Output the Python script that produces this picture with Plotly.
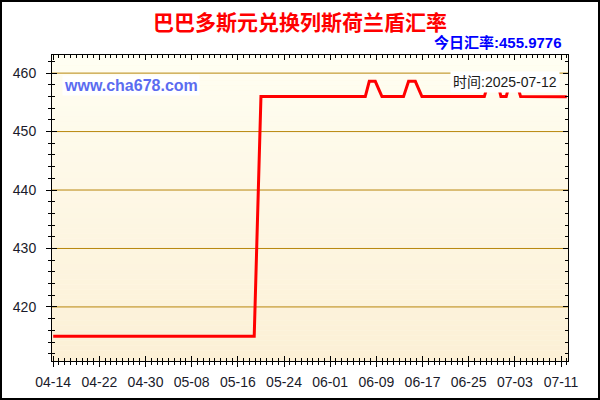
import plotly.graph_objects as go

# ---- data ----
dates = [
    "2025-04-14 00:00", "2025-05-18 20:00", "2025-05-20 00:00",
    "2025-06-07 02:00", "2025-06-07 18:30", "2025-06-08 19:30", "2025-06-09 23:15",
    "2025-06-13 17:00", "2025-06-14 14:00", "2025-06-15 18:00", "2025-06-16 21:30",
    "2025-06-27 17:00", "2025-06-28 12:00", "2025-06-29 23:00", "2025-06-30 14:00",
    "2025-07-01 12:00", "2025-07-02 05:00", "2025-07-03 05:00", "2025-07-04 00:00",
    "2025-07-12 00:00",
]
rates = [
    415.0, 415.0, 455.98,
    455.98, 458.6, 458.6, 455.98,
    455.98, 458.6, 458.6, 455.98,
    455.98, 458.6, 458.6, 455.98,
    455.98, 458.6, 458.6, 455.98,
    455.9776,
]
y_ticks = [420, 430, 440, 450, 460]
title_text = "巴巴多斯元兑换列斯荷兰盾汇率"
today_text = "今日汇率:455.9776"
site_text = "www.cha678.com"
time_text = "时间:2025-07-12"

x_range = ["2025-04-13 19:00", "2025-07-12 05:00"]
y_range = [410.75, 463.1]

# ---- layout geometry (pixels) ----
W, H = 600, 400
ML, MR, MT, MB = 52, 32, 55, 39
PW, PH = W - ML - MR, H - MT - MB


def px_x(px):
    return (px - ML) / PW


def px_y(py):
    return (H - MB - py) / PH


fig = go.Figure()
fig.add_trace(go.Scatter(
    x=dates, y=rates, mode="lines",
    line=dict(color="#FF0000", width=3),
    showlegend=False, hoverinfo="skip",
))
# invisible twin so the overlay axes (crossing tick marks) are drawn
fig.add_trace(go.Scatter(
    x=dates, y=rates, mode="lines", xaxis="x2", yaxis="y2",
    line=dict(color="rgba(0,0,0,0)", width=0),
    showlegend=False, hoverinfo="skip",
))

# gradient background strips
N = 60
top_c = (255, 254, 242)
bot_c = (252, 240, 214)
shapes = []
for i in range(N):
    t = i / (N - 1)
    c = tuple(round(bot_c[k] + (top_c[k] - bot_c[k]) * t) for k in range(3))
    shapes.append(dict(
        type="rect", xref="paper", yref="paper",
        x0=0, x1=1, y0=i / N, y1=(i + 1) / N,
        fillcolor="rgb(%d,%d,%d)" % c, line=dict(width=0), layer="below",
    ))
# golden horizontal grid lines at the major y ticks
for v in y_ticks:
    shapes.append(dict(
        type="line", xref="paper", yref="y",
        x0=0, x1=1, y0=v, y1=v,
        line=dict(color="rgb(184,134,11)", width=1), layer="below",
    ))
# outer frame of the image
shapes.append(dict(
    type="rect", xref="paper", yref="paper",
    x0=px_x(1), x1=px_x(599), y0=px_y(399), y1=px_y(1),
    line=dict(color="#000000", width=2), fillcolor="rgba(0,0,0,0)", layer="above",
))

font_lat = "Arial, 'Liberation Sans', 'Noto Sans CJK SC', sans-serif"
font_cjk = "'Noto Sans CJK SC', Arial, sans-serif"

axis_common = dict(showline=True, linecolor="#000000", linewidth=1)

fig.update_layout(
    template="none",
    width=W, height=H,
    margin=dict(l=ML, r=MR, t=MT, b=MB, pad=0),
    paper_bgcolor="#FFFFFF",
    plot_bgcolor="#FEF8E6",
    shapes=shapes,
    title=dict(
        text="<b>%s</b>" % title_text,
        x=0.5, xanchor="center", y=1 - 23 / H, yanchor="middle",
        font=dict(family=font_cjk, size=21, color="#FF0000"),
    ),
    xaxis=dict(
        **axis_common,
        type="date", range=x_range,
        tick0="2025-04-14", dtick=8 * 86400000, tickformat="%m-%d",
        ticks="outside", ticklen=5, tickcolor="#000000",
        minor=dict(dtick=86400000, ticks="outside", ticklen=3, tickcolor="#000000", showgrid=False),
        showgrid=False, zeroline=False, mirror=False,
        tickfont=dict(family=font_lat, size=14, color="#1a1a2a"),
        ticklabelstandoff=3,
    ),
    yaxis=dict(
        **axis_common,
        range=y_range, tickvals=y_ticks,
        ticks="outside", ticklen=5, tickcolor="#000000",
        minor=dict(dtick=2, tick0=410, ticks="outside", ticklen=3, tickcolor="#000000", showgrid=False),
        showgrid=False,
        zeroline=False, mirror=False,
        tickfont=dict(family=font_lat, size=14, color="#1a1a2a"),
        ticklabelstandoff=7,
    ),
    xaxis2=dict(
        **axis_common,
        type="date", range=x_range, overlaying="x", anchor="y2",
        tick0="2025-04-14", dtick=8 * 86400000,
        ticks="inside", ticklen=5, tickcolor="#000000",
        minor=dict(dtick=86400000, ticks="inside", ticklen=3, tickcolor="#000000", showgrid=False),
        showticklabels=False, showgrid=False, zeroline=False, mirror="ticks",
    ),
    yaxis2=dict(
        **axis_common,
        range=y_range, overlaying="y", anchor="x2", side="left",
        tickvals=y_ticks,
        ticks="inside", ticklen=5, tickcolor="#000000",
        minor=dict(dtick=2, tick0=410, ticks="inside", ticklen=3, tickcolor="#000000", showgrid=False),
        showticklabels=False, showgrid=False, zeroline=False, mirror="ticks",
    ),
    annotations=[
        dict(
            text="<b>%s</b>" % today_text, xref="paper", yref="paper",
            x=px_x(564), y=px_y(43), xanchor="right", yanchor="middle",
            showarrow=False,
            font=dict(family=font_lat, size=15, color="#0000FF"),
        ),
        dict(
            text="<b>%s</b>" % site_text, xref="paper", yref="paper",
            x=px_x(131), y=px_y(85.5), xanchor="center", yanchor="middle",
            showarrow=False, bgcolor="#FFFFFF", borderpad=1,
            font=dict(family=font_lat, size=16, color="#5B6CF0"),
        ),
        dict(
            text=time_text, xref="paper", yref="paper",
            x=px_x(505), y=px_y(81.5), xanchor="center", yanchor="middle",
            showarrow=False, bgcolor="#FFFFFF", borderpad=2,
            font=dict(family=font_lat, size=14, color="#1a1a1a"),
        ),
    ],
)

fig.write_html(
    "out.html",
    config={"displayModeBar": False},
    post_script="document.body.style.margin='0';document.body.style.overflow='hidden';",
)
